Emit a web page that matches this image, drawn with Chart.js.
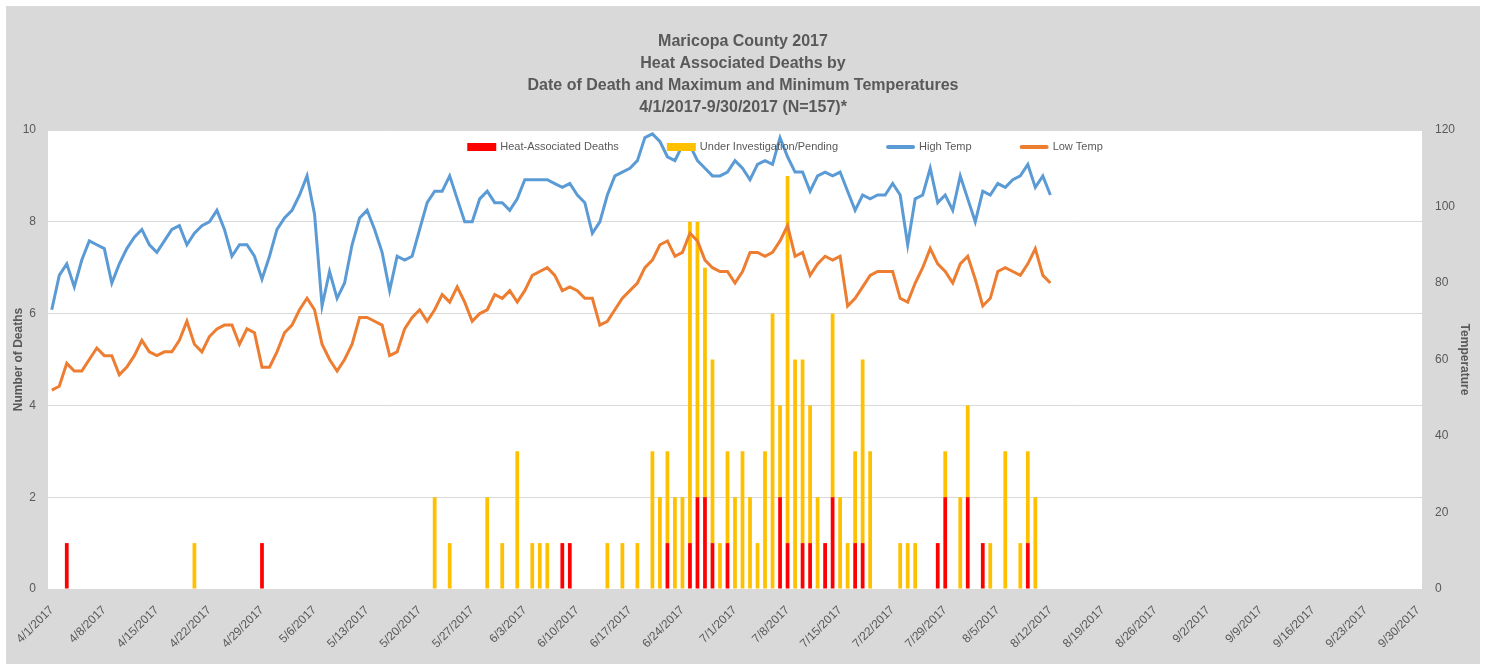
<!DOCTYPE html>
<html>
<head>
<meta charset="utf-8">
<script src="https://cdn.jsdelivr.net/npm/chart.js@4"></script>
<style>
  body { margin: 0; background: #fff; }
  #wrap { position: absolute; left: 6px; top: 6px; width: 1474px; height: 658px; background: #d9d9d9; }
</style>
</head>
<body>
<div id="wrap"><canvas id="heatChart" width="1474" height="658"></canvas></div>
<script>
// 4/1/2017 .. 9/30/2017, one category per day
const firstDay = new Date(2017, 3, 1);
const dayCount = 183;

const tickLabels = [
    '4/1/2017', '4/8/2017', '4/15/2017', '4/22/2017', '4/29/2017', '5/6/2017', '5/13/2017',
    '5/20/2017', '5/27/2017', '6/3/2017', '6/10/2017', '6/17/2017', '6/24/2017', '7/1/2017',
    '7/8/2017', '7/15/2017', '7/22/2017', '7/29/2017', '8/5/2017', '8/12/2017', '8/19/2017',
    '8/26/2017', '9/2/2017', '9/9/2017', '9/16/2017', '9/23/2017', '9/30/2017'
];

// daily max / min temperature, 4/1 .. 8/12
const highTemp = [
    73, 82, 85, 79, 86, 91, 90, 89, 80, 85,
    89, 92, 94, 90, 88, 91, 94, 95, 90, 93,
    95, 96, 99, 94, 87, 90, 90, 87, 81, 87,
    94, 97, 99, 103, 108, 98, 74, 83, 76, 80,
    90, 97, 99, 94, 88, 78, 87, 86, 87, 94,
    101, 104, 104, 108, 102, 96, 96, 102, 104, 101,
    101, 99, 102, 107, 107, 107, 107, 106, 105, 106,
    103, 101, 93, 96, 103, 108, 109, 110, 112, 118,
    119, 117, 113, 112, 116, 116, 112, 110, 108, 108,
    109, 112, 110, 107, 111, 112, 111, 118, 113, 109,
    109, 104, 108, 109, 108, 109, 104, 99, 103, 102,
    103, 103, 106, 103, 90, 102, 103, 110, 101, 103,
    99, 108, 102, 96, 104, 103, 106, 105, 107, 108,
    111, 105, 108, 103
];

const lowTemp = [
    52, 53, 59, 57, 57, 60, 63, 61, 61, 56,
    58, 61, 65, 62, 61, 62, 62, 65, 70, 64,
    62, 66, 68, 69, 69, 64, 68, 67, 58, 58,
    62, 67, 69, 73, 76, 73, 64, 60, 57, 60,
    64, 71, 71, 70, 69, 61, 62, 68, 71, 73,
    70, 73, 77, 75, 79, 75, 70, 72, 73, 77,
    76, 78, 75, 78, 82, 83, 84, 82, 78, 79,
    78, 76, 76, 69, 70, 73, 76, 78, 80, 84,
    86, 90, 91, 87, 88, 93, 91, 86, 84, 83,
    83, 80, 83, 88, 88, 87, 88, 91, 95, 87,
    88, 82, 85, 87, 86, 87, 74, 76, 79, 82,
    83, 83, 83, 76, 75, 80, 84, 89, 85, 83,
    80, 85, 87, 81, 74, 76, 83, 84, 83, 82,
    85, 89, 82, 80
];

// deaths: day number counted from 4/1 (= 0) and count on that day
const heatDays = [2, 28, 68, 69, 82, 85, 86, 87, 88, 90, 97, 98, 100, 101, 103, 104, 107, 108, 118, 119, 122, 124, 130];
const heatCounts = [1, 1, 1, 1, 1, 1, 2, 2, 1, 1, 2, 1, 1, 1, 1, 2, 1, 1, 1, 2, 2, 1, 1];

const pendingDays = [19, 51, 53, 58, 60, 62, 64, 65, 66, 74, 76, 78, 80, 81, 82, 83, 84, 85, 86, 87, 88, 89, 90,
    91, 92, 93, 94, 95, 96, 97, 98, 99, 100, 101, 102, 104, 105, 106, 107, 108, 109, 113, 114, 115, 119, 121,
    122, 125, 127, 129, 130, 131];
const pendingCounts = [1, 2, 1, 2, 1, 3, 1, 1, 1, 1, 1, 1, 3, 2, 2, 2, 2, 7, 6, 5, 4, 1, 2,
    2, 3, 2, 1, 3, 6, 2, 8, 5, 4, 3, 2, 4, 2, 1, 2, 4, 3, 1, 1, 1, 1, 2,
    2, 1, 3, 1, 2, 2];

const categories = [];
for (let i = 0; i < dayCount; i++) {
    const d = new Date(firstDay);
    d.setDate(firstDay.getDate() + i);
    categories.push((d.getMonth() + 1) + '/' + d.getDate() + '/' + d.getFullYear());
}

function spread(days, counts) {
    const out = new Array(dayCount).fill(null);
    days.forEach((day, i) => { out[day] = counts[i]; });
    return out;
}

const grey = '#595959';
const family = "'Liberation Sans', Arial, sans-serif";

const plotBackground = {
    id: 'plotBackground',
    beforeDraw(chart) {
        const { ctx, chartArea } = chart;
        ctx.save();
        ctx.fillStyle = '#ffffff';
        ctx.fillRect(chartArea.left, chartArea.top, chartArea.right - chartArea.left, chartArea.bottom - chartArea.top);
        ctx.restore();
    }
};

// one-row legend sitting inside the top of the plot area
const insideLegend = {
    id: 'insideLegend',
    afterDraw(chart, args, opts) {
        const { ctx, chartArea } = chart;
        const items = chart.data.datasets.map(ds => ({
            label: ds.label,
            color: ds.type === 'line' ? ds.borderColor : ds.backgroundColor,
            isLine: ds.type === 'line'
        }));
        ctx.save();
        ctx.font = opts.font;
        const widths = items.map(it => opts.boxWidth + opts.textGap + ctx.measureText(it.label).width);
        const total = widths.reduce((a, b) => a + b, 0) + opts.itemGap * (items.length - 1);
        let x = (chartArea.left + chartArea.right) / 2 + opts.shift - total / 2;
        const y = chartArea.top + opts.offsetY;
        items.forEach((it, i) => {
            if (it.isLine) {
                ctx.strokeStyle = it.color;
                ctx.lineWidth = 4;
                ctx.lineCap = 'round';
                ctx.beginPath();
                ctx.moveTo(x + 2, y);
                ctx.lineTo(x + opts.boxWidth - 2, y);
                ctx.stroke();
            } else {
                ctx.fillStyle = it.color;
                ctx.fillRect(x, y - 4, opts.boxWidth, 8);
            }
            ctx.fillStyle = opts.color;
            ctx.textBaseline = 'middle';
            ctx.textAlign = 'left';
            ctx.fillText(it.label, x + opts.boxWidth + opts.textGap, y);
            x += widths[i] + opts.itemGap;
        });
        ctx.restore();
    }
};

new Chart(document.getElementById('heatChart'), {
    data: {
        labels: categories,
        datasets: [
            {
                type: 'bar',
                label: 'Heat-Associated Deaths',
                data: spread(heatDays, heatCounts),
                backgroundColor: '#ff0000',
                yAxisID: 'y',
                order: 2,
                barPercentage: 0.5,
                categoryPercentage: 1
            },
            {
                type: 'bar',
                label: 'Under Investigation/Pending',
                data: spread(pendingDays, pendingCounts),
                backgroundColor: '#ffc000',
                yAxisID: 'y',
                order: 2,
                barPercentage: 0.5,
                categoryPercentage: 1
            },
            {
                type: 'line',
                label: 'High Temp',
                data: highTemp,
                borderColor: '#5b9bd5',
                backgroundColor: '#5b9bd5',
                borderWidth: 3,
                pointRadius: 0,
                tension: 0,
                yAxisID: 'y1',
                order: 1
            },
            {
                type: 'line',
                label: 'Low Temp',
                data: lowTemp,
                borderColor: '#ed7d31',
                backgroundColor: '#ed7d31',
                borderWidth: 3,
                pointRadius: 0,
                tension: 0,
                yAxisID: 'y1',
                order: 1
            }
        ]
    },
    options: {
        responsive: false,
        animation: false,
        plugins: {
            title: {
                display: true,
                text: [
                    'Maricopa County 2017',
                    'Heat Associated Deaths by',
                    'Date of Death and Maximum and Minimum Temperatures',
                    '4/1/2017-9/30/2017 (N=157)*'
                ],
                color: grey,
                font: { family: family, size: 16, weight: 'bold', lineHeight: 1.375 },
                padding: { top: 25, bottom: 11 }
            },
            legend: { display: false },
            tooltip: { enabled: false },
            insideLegend: {
                font: '11px ' + family,
                color: grey,
                boxWidth: 29,
                textGap: 4,
                itemGap: 48,
                offsetY: 17,
                shift: 50
            }
        },
        scales: {
            x: {
                stacked: true,
                offset: true,
                grid: { display: false },
                border: { display: false },
                ticks: {
                    autoSkip: false,
                    minRotation: 45,
                    maxRotation: 45,
                    padding: 6,
                    color: grey,
                    font: { family: family, size: 12 },
                    callback: (value, index) => index % 7 === 0 ? tickLabels[index / 7] : null
                },
                afterFit: (scale) => { scale.height = 75; }
            },
            y: {
                position: 'left',
                stacked: true,
                min: 0,
                max: 10,
                ticks: { stepSize: 2, padding: 12, color: grey, font: { family: family, size: 12 } },
                grid: { color: '#d9d9d9', drawTicks: false },
                border: { display: false },
                title: {
                    display: true,
                    text: 'Number of Deaths',
                    color: grey,
                    font: { family: family, size: 12, weight: 'bold' },
                    padding: { top: 5, bottom: 0 }
                },
                afterFit: (scale) => { scale.width = 42; }
            },
            y1: {
                position: 'right',
                min: 0,
                max: 120,
                ticks: { stepSize: 20, padding: 13, color: grey, font: { family: family, size: 12 } },
                grid: { display: false, drawTicks: false },
                border: { display: false },
                title: {
                    display: true,
                    text: 'Temperature',
                    color: grey,
                    font: { family: family, size: 12, weight: 'bold' },
                    padding: { top: 8, bottom: 0 }
                },
                afterFit: (scale) => { scale.width = 58; }
            }
        }
    },
    plugins: [plotBackground, insideLegend]
});
</script>
</body>
</html>
